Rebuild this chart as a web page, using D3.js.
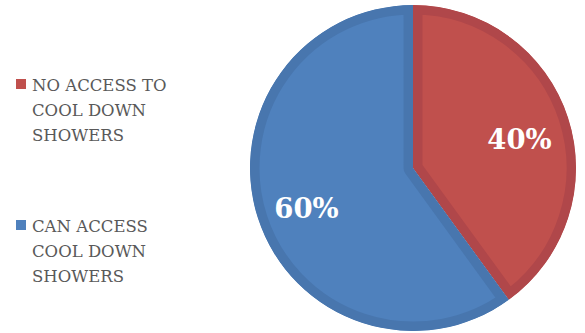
<!DOCTYPE html>
<html>
<head>
<meta charset="utf-8">
<script src="https://d3js.org/d3.v7.min.js"></script>
<style>
  body { margin: 0; background: #fff; }
  .legend text { font-family: "DejaVu Serif", serif; font-size: 16.5px; fill: #595959; }
  .lbl { font-family: "DejaVu Serif", serif; font-weight: bold; font-size: 27.5px; fill: #fff; }
</style>
</head>
<body>
<script>

var categories = ["NO ACCESS TO COOL DOWN SHOWERS", "CAN ACCESS COOL DOWN SHOWERS"];
var legendLines = [["NO ACCESS TO", "COOL DOWN", "SHOWERS"], ["CAN ACCESS", "COOL DOWN", "SHOWERS"]];
var values = [40, 60];
var fills = ["#c0504d", "#4f81bd"];
var edges = ["#b0474a", "#4876ae"];

var width = 585,
    height = 333,
    cx = 413,
    cy = 168,
    radius = 163;

var svg = d3.select("body").append("svg")
    .attr("width", width)
    .attr("height", height);

var pie = d3.pie().sort(null).value(function(d) { return d; });
var arc = d3.arc().innerRadius(0).outerRadius(radius);
var labelArc = d3.arc().innerRadius(112).outerRadius(112);

var slices = pie(values);

// clip paths live in the same (translated) user space as the slices
var defs = svg.append("defs");
defs.selectAll("clipPath")
    .data(slices)
  .enter().append("clipPath")
    .attr("id", function(d, i) { return "clip" + i; })
  .append("path")
    .attr("d", arc);

var g = svg.append("g")
    .attr("transform", "translate(" + cx + "," + cy + ")");

// slice with darker inner rim (like the bevel)
g.selectAll("path.slice")
    .data(slices)
  .enter().append("path")
    .attr("class", "slice")
    .attr("d", arc)
    .attr("fill", function(d, i) { return fills[i]; })
    .attr("stroke", function(d, i) { return edges[i]; })
    .attr("stroke-width", 19)
    .attr("stroke-linejoin", "round")
    .attr("clip-path", function(d, i) { return "url(#clip" + i + ")"; });

g.selectAll("text.lbl")
    .data(slices)
  .enter().append("text")
    .attr("class", "lbl")
    .attr("transform", function(d) { return "translate(" + labelArc.centroid(d) + ")"; })
    .attr("text-anchor", "middle")
    .attr("dy", "0.55em")
    .text(function(d) { return d.data + "%"; });

// legend
var legendY = [79, 220];
var legend = svg.append("g").attr("class", "legend");
var item = legend.selectAll("g")
    .data(categories)
  .enter().append("g")
    .attr("transform", function(d, i) { return "translate(16," + legendY[i] + ")"; });

item.append("rect")
    .attr("width", 10)
    .attr("height", 10)
    .attr("fill", function(d, i) { return fills[i]; });

item.append("text")
    .selectAll("tspan")
    .data(function(d, i) { return legendLines[i]; })
  .enter().append("tspan")
    .attr("x", 16)
    .attr("y", function(d, j) { return 11.5 + j * 25; })
    .text(function(d) { return d; });

</script>
</body>
</html>
